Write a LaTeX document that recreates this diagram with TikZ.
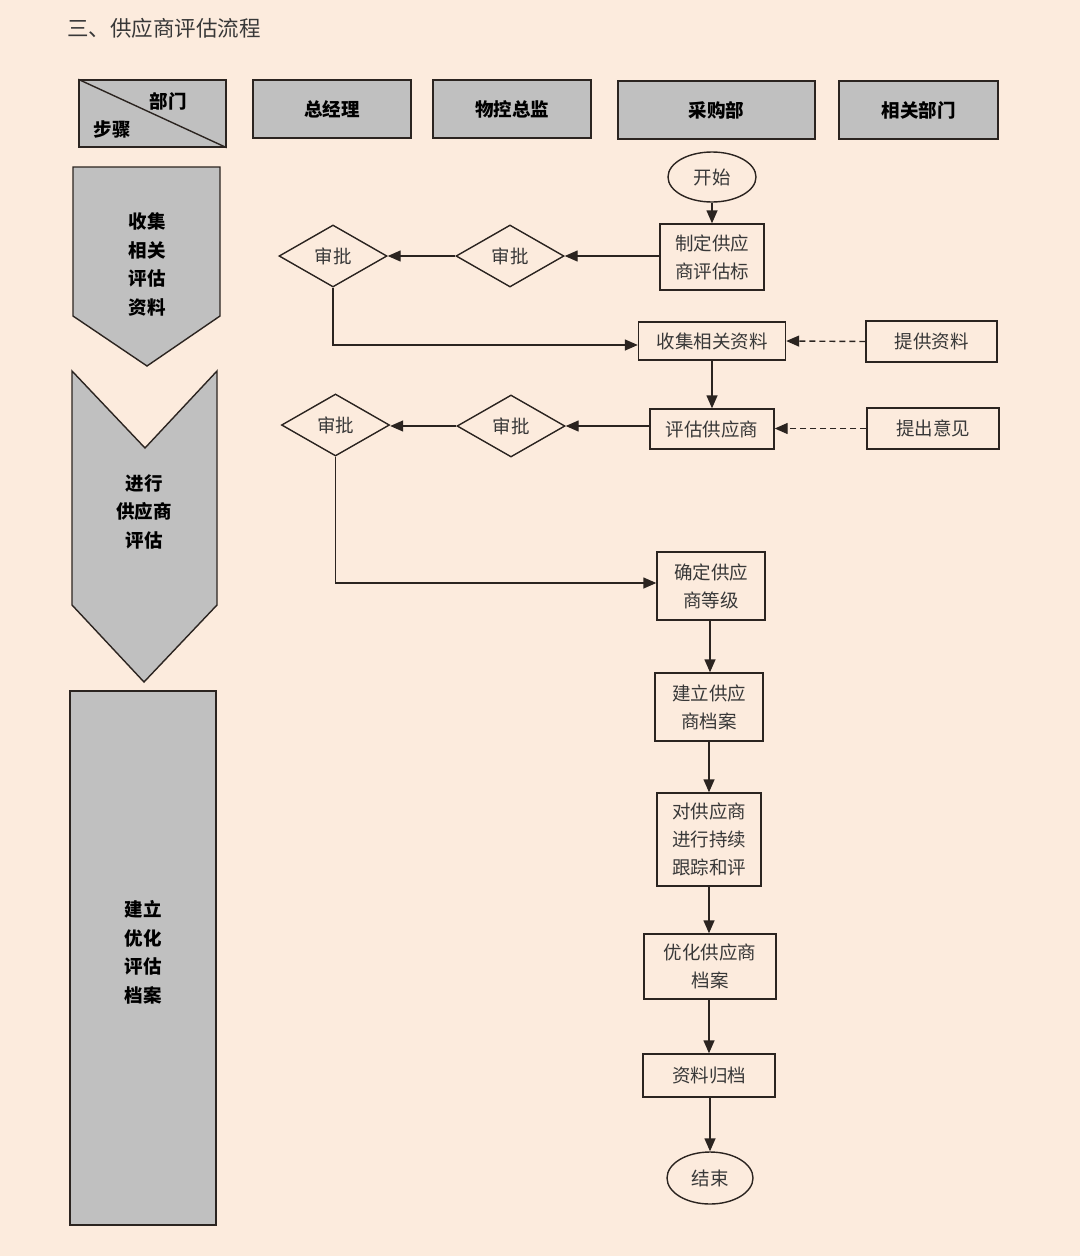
\documentclass[tikz,border=0pt]{standalone}
\usepackage{fontspec}
\setmainfont{Noto Sans CJK SC}
\usetikzlibrary{shapes.geometric,arrows.meta}
\definecolor{bg}{HTML}{FCEBDD}
\definecolor{gr}{HTML}{C0C0C0}
\definecolor{ln}{HTML}{2B2420}
\definecolor{tx}{HTML}{383838}
\newcommand\fsbody{\fontsize{18.5}{28}\selectfont}
\newcommand\fstitle{\fontsize{21.5}{24}\selectfont}
\tikzset{
  box/.style={draw=ln, line width=1.4pt, text=tx, align=center, inner sep=0pt, font=\fsbody},
  hdr/.style={draw=ln, line width=1.4pt, fill=gr, text=black, align=center, inner sep=0pt, font=\bfseries\fsbody},
  dia/.style={diamond, draw=ln, line width=1.4pt, text=tx, inner sep=0pt, font=\fsbody, minimum width=108pt, minimum height=62pt, aspect=1.75},
  ell/.style={ellipse, draw=ln, line width=1.4pt, text=tx, inner sep=0pt, font=\fsbody},
  shp/.style={draw=ln, line width=1.4pt, fill=gr},
  lbl/.style={text=black, align=center, inner sep=0pt, font=\bfseries\fontsize{18.5}{28.5}\selectfont},
  arr/.style={draw=ln, line width=1.4pt, -{Triangle[length=13pt,width=11pt]}},
  darr/.style={arr, dash pattern=on 6pt off 4pt},
}
\begin{document}
\begin{tikzpicture}[x=1pt,y=-1pt]
\useasboundingbox (0,0) rectangle (1080,1256);
\fill[bg] (0,0) rectangle (1080,1256);

% title
\node[anchor=west, text=tx, inner sep=0pt, font=\fstitle] (title) at (67,28) {三、供应商评估流程};

% header row
\node[hdr, minimum width=147pt, minimum height=67pt] (corner) at (152.5,113.5) {};
\draw[draw=ln, line width=1.4pt] (corner.north west) -- (corner.south east);
\node[lbl] (dept) at (168,101) {部门};
\node[lbl] (steps) at (112,129) {步骤};
\node[hdr, minimum width=158pt, minimum height=58pt] (gm) at (332,109) {总经理};
\node[hdr, minimum width=158pt, minimum height=58pt] (wk) at (512,109) {物控总监};
\node[hdr, minimum width=197pt, minimum height=58pt] (cg) at (716.5,110) {采购部};
\node[hdr, minimum width=159pt, minimum height=58pt] (xg) at (918.5,110) {相关部门};

% left step column
\draw[shp] (73,167) -- (220,167) -- (220,316) -- (147,366) -- (73,316) -- cycle;
\node[lbl] (s1) at (147,264.5) {收集\\相关\\评估\\资料};
\draw[shp] (72,371) -- (145,448) -- (217,371) -- (217,605) -- (144,682) -- (72,605) -- cycle;
\node[lbl] (s2) at (144,511.5) {进行\\供应商\\评估};
\draw[shp] (70,691) rectangle (216,1225);
\node[lbl] (s3) at (143,952.5) {建立\\优化\\评估\\档案};

% flow nodes
\node[ell, minimum width=88pt, minimum height=50pt] (start) at (712,177) {开始};
\node[box, minimum width=104pt, minimum height=66pt] (zd) at (712,257) {制定供应\\商评估标};
\node[dia] (d1r) at (510,256) {审批};
\node[dia] (d1l) at (333,256) {审批};
\node[box, minimum width=147pt, minimum height=38pt] (sj) at (712,341) {收集相关资料};
\node[box, minimum width=131pt, minimum height=41pt] (tg) at (931.5,341.5) {提供资料};
\node[box, minimum width=124pt, minimum height=40pt] (pg) at (712,429) {评估供应商};
\node[box, minimum width=132pt, minimum height=41pt] (tc) at (933,428.5) {提出意见};
\node[dia] (d2r) at (511,426) {审批};
\node[dia] (d2l) at (335.5,425) {审批};
\node[box, minimum width=108pt, minimum height=68pt] (qd) at (711,586) {确定供应\\商等级};
\node[box, minimum width=108pt, minimum height=68pt] (jl) at (709,707) {建立供应\\商档案};
\node[box, minimum width=104pt, minimum height=93pt] (dg) at (709,839.5) {对供应商\\进行持续\\跟踪和评};
\node[box, minimum width=132pt, minimum height=65pt] (yh) at (710,966.5) {优化供应商\\档案};
\node[box, minimum width=132pt, minimum height=43pt] (gd) at (709,1075.5) {资料归档};
\node[ell, minimum width=86pt, minimum height=52pt] (end) at (710,1178) {结束};

% connectors
\draw[arr] (start) -- (zd);
\draw[arr] (zd.west |- d1r.east) -- (d1r.east);
\draw[arr] (d1r.west) -- (d1l.east);
\draw[arr] (d1l.south) |- ([yshift=-4pt]sj.west);
\draw[darr] (tg.west) -- (sj.east);
\draw[arr] (sj) -- (pg);
\draw[arr] (pg.west |- d2r.east) -- (d2r.east);
\draw[arr] (d2r.west) -- (d2l.east |- d2r.west);
\draw[arr] (d2l.south) |- ([yshift=3pt]qd.west);
\draw[darr] (tc.west) -- (pg.east |- tc.west);
\draw[arr] (qd.south -| 710,0) -- (jl.north -| 710,0);
\draw[arr] (jl.south -| 709,0) -- (dg.north -| 709,0);
\draw[arr] (dg.south -| 709,0) -- (yh.north -| 709,0);
\draw[arr] (yh.south -| 709,0) -- (gd.north -| 709,0);
\draw[arr] (gd.south -| 710,0) -- (end.north -| 710,0);
\end{tikzpicture}
\end{document}
